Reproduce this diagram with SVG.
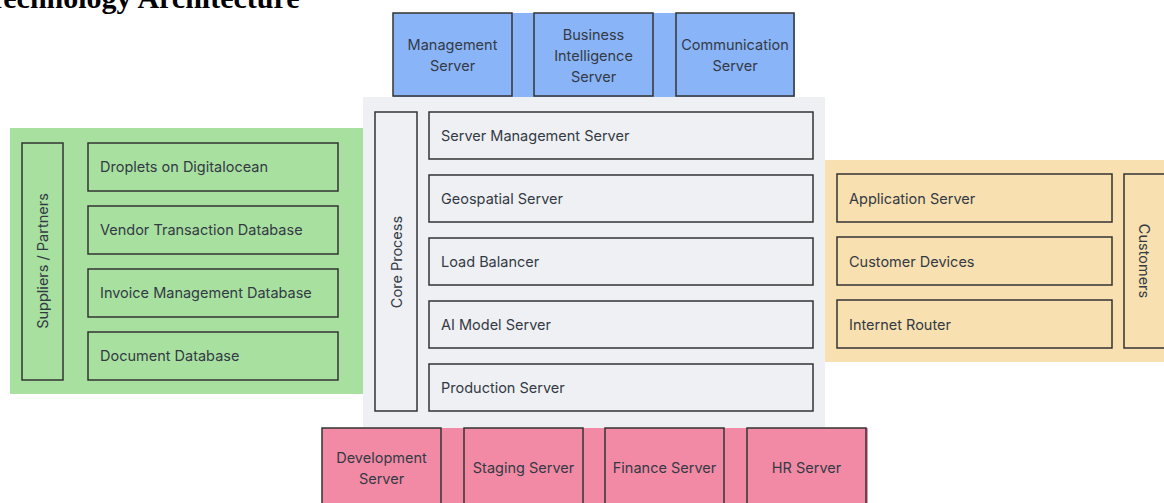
<svg xmlns="http://www.w3.org/2000/svg" width="1164" height="503" viewBox="0 0 1164 503">
<style>
.t{font-family:Inter,"Noto Sans","Liberation Sans",sans-serif;font-size:14.5px;fill:#333a44}
.c{text-anchor:middle}
.box{stroke:#333;stroke-width:1.5}
.blue{fill:#8ab4f8}
.green{fill:#a8e0a0}
.peach{fill:#f8e0b0}
.grey{fill:#eff0f4}
.pink{fill:#f28aa6}
</style>
<rect width="1164" height="503" fill="#fff"/>
<text x="-14" y="8" font-family="'Liberation Serif',serif" font-weight="bold" font-size="30" fill="#000">Technology Architecture</text>

<!-- panels -->
<rect x="393" y="13" width="402" height="84" class="blue"/>
<rect x="10" y="128" width="353" height="266" class="green"/>
<rect x="825" y="160" width="339" height="202" class="peach"/>
<rect x="363" y="97" width="462" height="331" class="grey"/>
<rect x="322" y="428" width="546" height="75" class="pink"/>

<g id="management-server"><rect x="393" y="13" width="119" height="83" class="box blue"/><text class="t c" x="452.5" y="50">Management</text><text class="t c" x="452.5" y="71">Server</text></g>
<g id="bi-server"><rect x="534" y="13" width="119" height="83" class="box blue"/><text class="t c" x="593.5" y="40">Business</text><text class="t c" x="593.5" y="61">Intelligence</text><text class="t c" x="593.5" y="82">Server</text></g>
<g id="communication-server"><rect x="676" y="13" width="118" height="83" class="box blue"/><text class="t c" x="735" y="50">Communication</text><text class="t c" x="735" y="71">Server</text></g>

<g id="suppliers"><rect x="22" y="143" width="41" height="237" class="box green"/><text class="t c" transform="translate(48,261) rotate(-90)">Suppliers / Partners</text></g>
<g id="droplets"><rect x="88" y="143" width="250" height="48" class="box green"/><text class="t" x="100" y="172">Droplets on Digitalocean</text></g>
<g id="vendor-db"><rect x="88" y="206" width="250" height="48" class="box green"/><text class="t" x="100" y="235">Vendor Transaction Database</text></g>
<g id="invoice-db"><rect x="88" y="269" width="250" height="48" class="box green"/><text class="t" x="100" y="298">Invoice Management Database</text></g>
<g id="document-db"><rect x="88" y="332" width="250" height="48" class="box green"/><text class="t" x="100" y="361">Document Database</text></g>

<g id="core-process"><rect x="375" y="112" width="42" height="299" class="box grey"/><text class="t c" transform="translate(402,262) rotate(-90)">Core Process</text></g>
<g id="server-management-server"><rect x="429" y="112" width="384" height="47" class="box grey"/><text class="t" x="441" y="141">Server Management Server</text></g>
<g id="geospatial-server"><rect x="429" y="175" width="384" height="47" class="box grey"/><text class="t" x="441" y="204">Geospatial Server</text></g>
<g id="load-balancer"><rect x="429" y="238" width="384" height="47" class="box grey"/><text class="t" x="441" y="267">Load Balancer</text></g>
<g id="ai-model-server"><rect x="429" y="301" width="384" height="47" class="box grey"/><text class="t" x="441" y="330">AI Model Server</text></g>
<g id="production-server"><rect x="429" y="364" width="384" height="47" class="box grey"/><text class="t" x="441" y="393">Production Server</text></g>

<g id="application-server"><rect x="837" y="174" width="275" height="48" class="box peach"/><text class="t" x="849" y="204">Application Server</text></g>
<g id="customer-devices"><rect x="837" y="237" width="275" height="48" class="box peach"/><text class="t" x="849" y="267">Customer Devices</text></g>
<g id="internet-router"><rect x="837" y="300" width="275" height="48" class="box peach"/><text class="t" x="849" y="330">Internet Router</text></g>
<g id="customers"><rect x="1124" y="174" width="50" height="174" class="box peach"/><text class="t c" transform="translate(1139,261) rotate(90)">Customers</text></g>

<g id="development-server"><rect x="322" y="428" width="119" height="80" class="box pink"/><text class="t c" x="381.5" y="463">Development</text><text class="t c" x="381.5" y="484">Server</text></g>
<g id="staging-server"><rect x="464" y="428" width="119" height="80" class="box pink"/><text class="t c" x="523.5" y="473">Staging Server</text></g>
<g id="finance-server"><rect x="605" y="428" width="119" height="80" class="box pink"/><text class="t c" x="664.5" y="473">Finance Server</text></g>
<g id="hr-server"><rect x="747" y="428" width="119" height="80" class="box pink"/><text class="t c" x="806.5" y="473">HR Server</text></g>

<g id="connectors"></g>
</svg>
